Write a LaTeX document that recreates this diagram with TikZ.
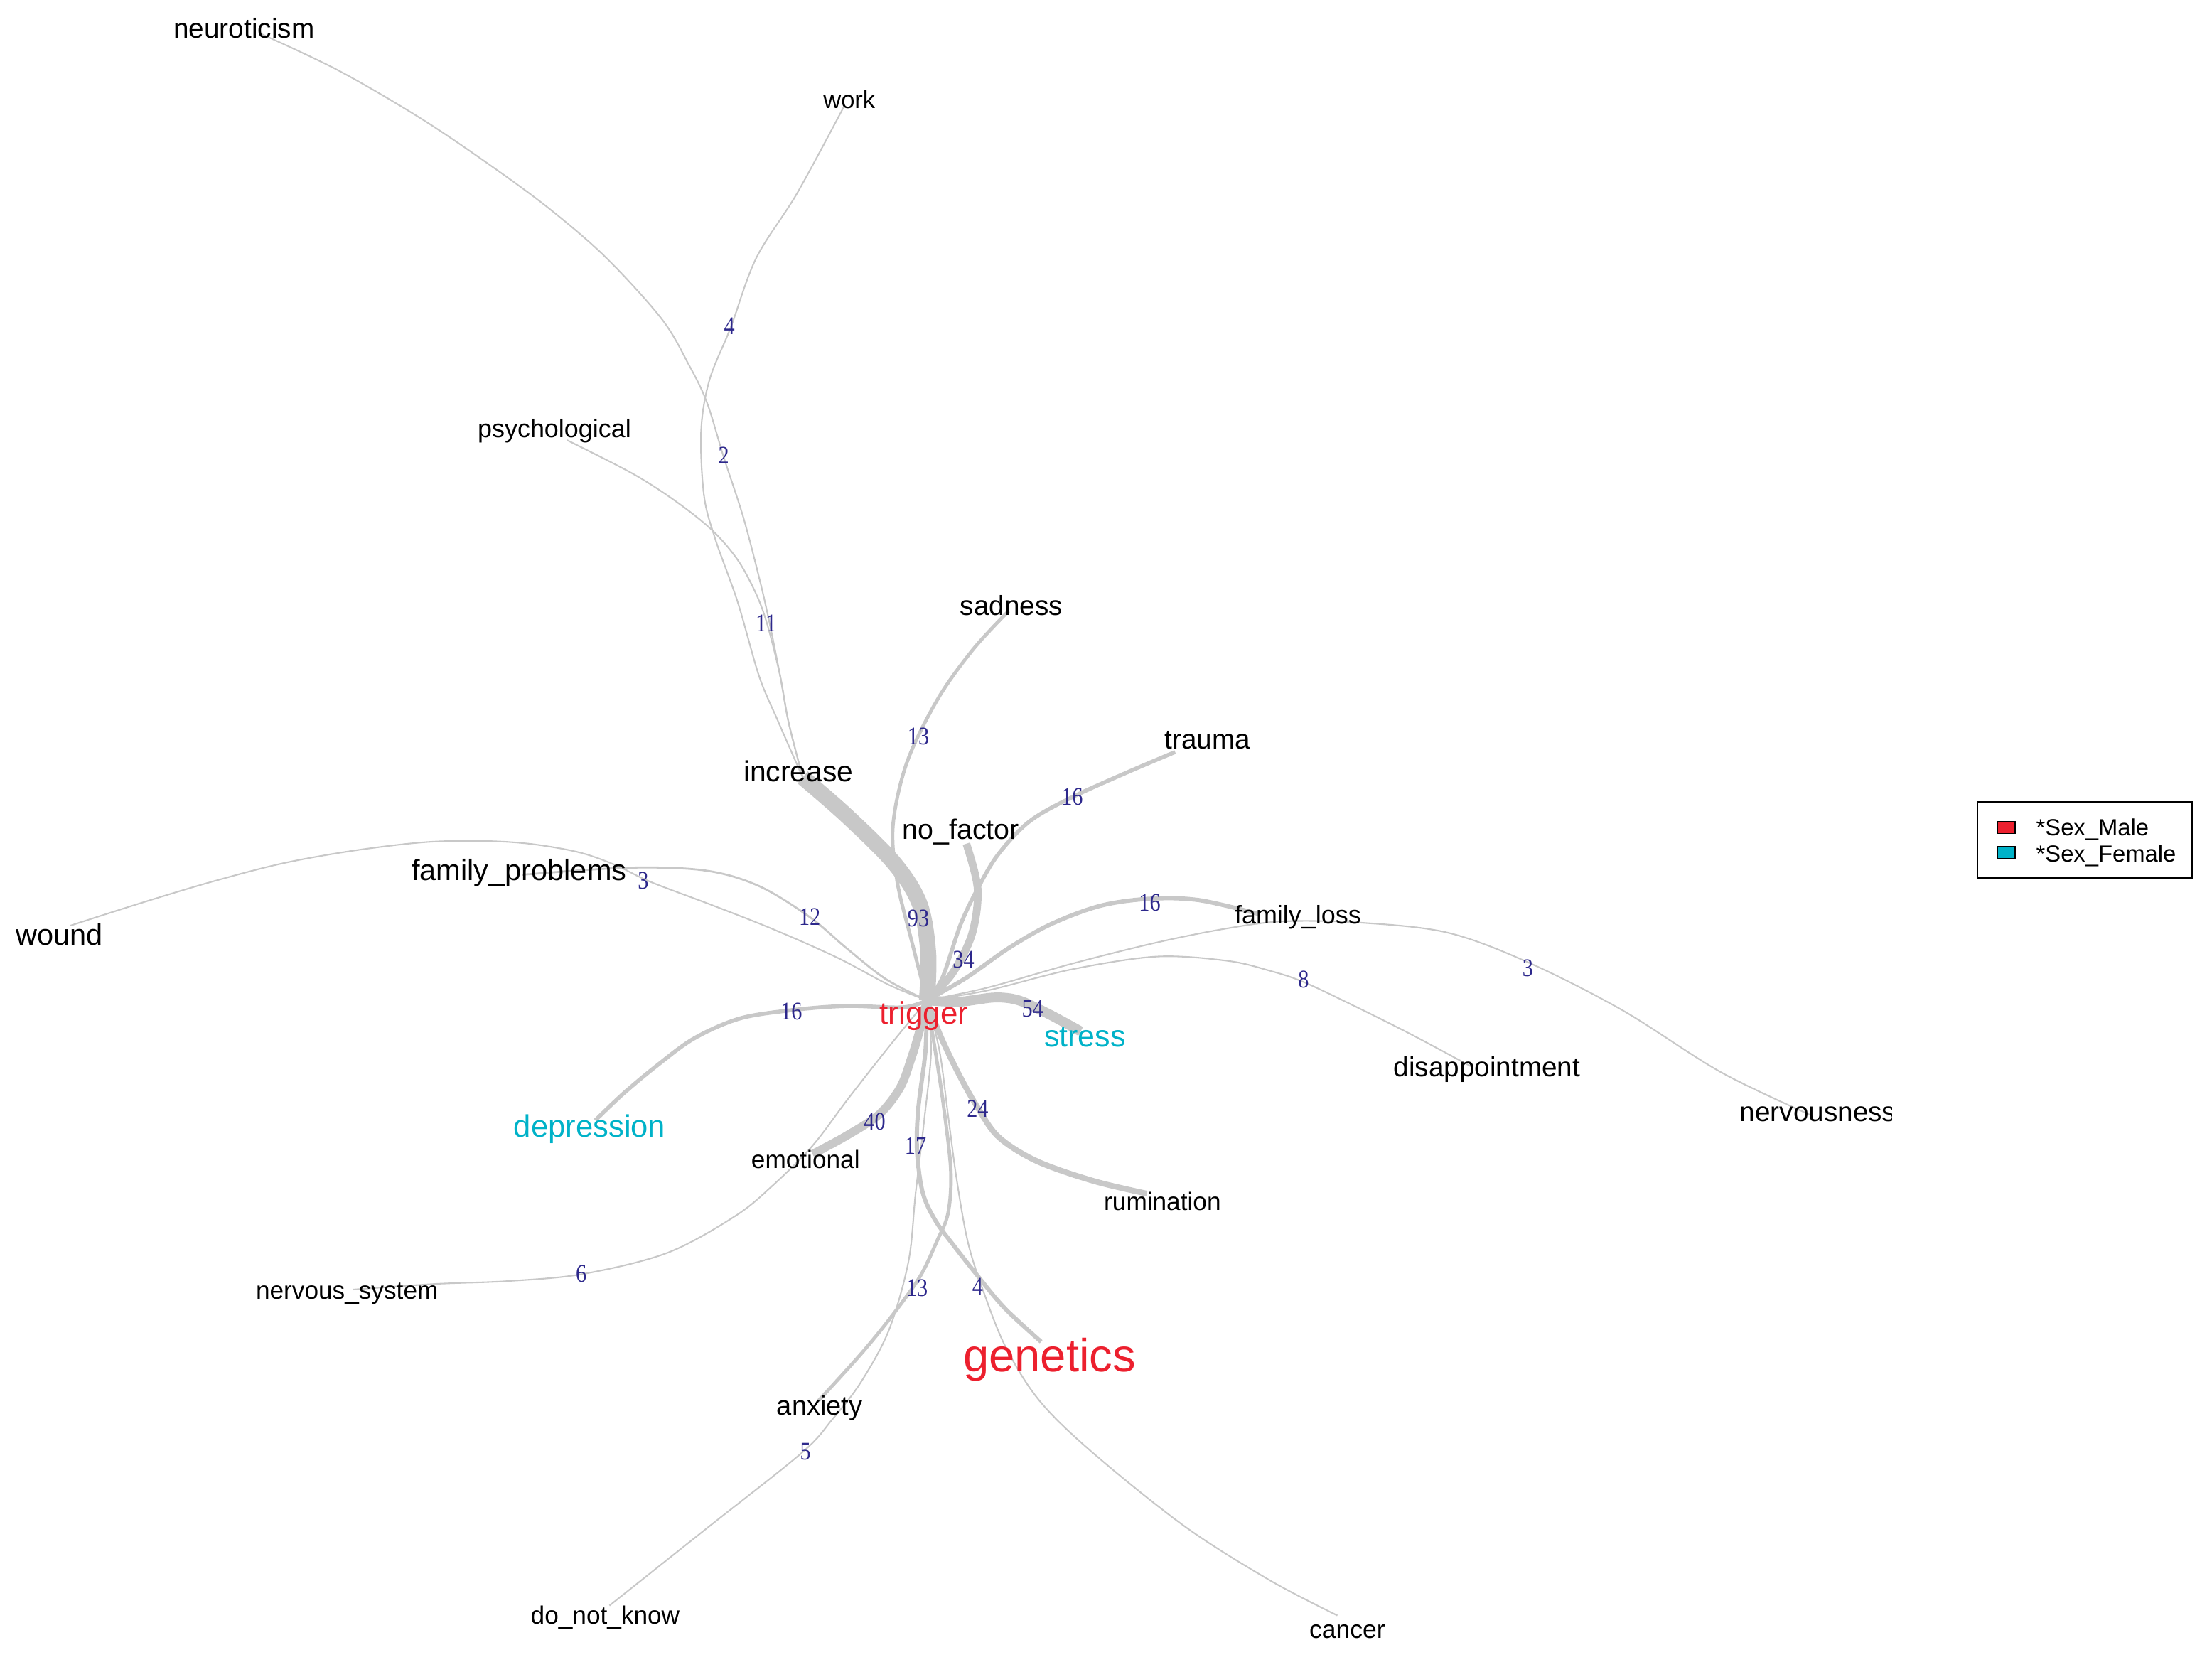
\documentclass[tikz,border=0pt]{standalone}
\usepackage{fontspec}
\setmainfont{Liberation Sans}
\newfontfamily\numfont[FakeStretch=0.85]{Liberation Serif}
\definecolor{egray}{RGB}{200,200,200}
\definecolor{tred}{RGB}{236,32,46}
\definecolor{tcyan}{RGB}{0,178,200}
\definecolor{tnum}{RGB}{45,40,140}
\pgfdeclarelayer{bg}
\pgfsetlayers{bg,main}
\begin{document}
\begin{tikzpicture}[x=0.02cm, y=-0.02cm,
  word/.style={anchor=base, inner sep=0pt, font=\fontsize{#1}{#1}\selectfont},
  num/.style={inner sep=0pt, text=tnum, font=\numfont\fontsize{10.2}{10.2}\selectfont},
  link/.style={draw=egray, line width=#1, line join=round},
  smoothplot/.style={smooth, tension=0.55}
]
\useasboundingbox (0,0) rectangle (1568,1185);

% ---------- word nodes ----------
\node[word=11.1] (neuroticism) at (173,27) {neuroticism};
\node[word=9.9] (work) at (602,77) {work};
\node[word=10.3] (psychological) at (393,310) {psychological};
\node[word=11.1] (sadness) at (717,436) {sadness};
\node[word=11.1] (trauma) at (856,531) {trauma};
\node[word=11.7] (increase) at (566,554) {increase};
\node[word=11.3] (nofactor) at (681,595) {no\_factor};
\node[word=11.9] (familyproblems) at (368,624) {family\_problems};
\node[word=11.9] (wound) at (42,670) {wound};
\node[word=10.3] (familyloss) at (920,655) {family\_loss};
\node[word=12.6, text=tred] (trigger) at (655,726) {trigger};
\node[word=12.3, text=tcyan] (stress) at (769,742) {stress};
\node[word=12.5, text=tcyan] (depression) at (418,806) {depression};
\node[word=11.1] (disappointment) at (1054,763) {disappointment};
\begin{scope}
\clip (0,0) rectangle (1341,1185);
\node[word=11.1, anchor=base west] (nervousness) at (1233,795) {nervousness};
\end{scope}
\node[word=10.1] (emotional) at (571,828) {emotional};
\node[word=10.1] (rumination) at (824,858) {rumination};
\node[word=10.1] (nervoussystem) at (246,921) {nervous\_system};
\node[word=18.7, text=tred] (genetics) at (744,972) {genetics};
\node[word=10.9] (anxiety) at (581,1003) {anxiety};
\node[word=10.1] (donotknow) at (429,1151) {do\_not\_know};
\node[word=10.2] (cancer) at (955,1161) {cancer};

% ---------- edge end points ----------
\coordinate (hub) at (657,709);
\coordinate (increase-p) at (569,551);
\coordinate (sadness-p) at (715,433);
\coordinate (trauma-p) at (833,533);
\coordinate (nofactor-p) at (685,598);
\coordinate (familyloss-p) at (893,648);
\coordinate (nervousness-p) at (1285,791);
\coordinate (disappointment-p) at (1043,756);
\coordinate (stress-p) at (766,731);
\coordinate (depression-p) at (422,794);
\coordinate (emotional-p) at (576,818);
\coordinate (nervoussystem-p) at (250,914);
\coordinate (rumination-p) at (813,846);
\coordinate (genetics-p) at (738,951);
\coordinate (anxiety-p) at (580,993);
\coordinate (cancer-p) at (948,1145);
\coordinate (donotknow-p) at (432,1138);
\coordinate (familyproblems-p) at (370,620);
\coordinate (wound-p) at (50,656);
\coordinate (work-p) at (598,76);
\coordinate (neuroticism-p) at (185,24);
\coordinate (psychological-p) at (402,312);

% ---------- edges ----------
\begin{pgfonlayer}{bg}
\draw[link=6.4pt] plot[smoothplot] coordinates {(hub) (658,676) (652,641) (634,612) (600,578) (increase-p)};
\draw[link=1.4pt] plot[smoothplot] coordinates {(hub) (647,670) (636,625) (633,585) (643,540) (665,495) (690,460) (sadness-p)};
\draw[link=1.6pt] plot[smoothplot] coordinates {(hub) (668,693) (681,655) (694,628) (708,605) (730,582) (760,565) (800,547) (trauma-p)};
\draw[link=3.1pt] plot[smoothplot] coordinates {(hub) (675,690) (689,662) (693,630) (nofactor-p)};
\draw[link=1.7pt] plot[smoothplot] coordinates {(hub) (685,693) (715,672) (745,655) (780,642) (815,637) (850,638) (familyloss-p)};
\draw[link=0.6pt] plot[smoothplot] coordinates {(hub) (700,700) (760,683) (820,668) (870,658) (910,653) (965,654) (1026,661) (1083,682) (1150,716) (1220,760) (nervousness-p)};
\draw[link=0.6pt] plot[smoothplot] coordinates {(hub) (700,702) (760,687) (820,678) (870,681) (900,688) (924,696) (960,713) (1000,733) (disappointment-p)};
\draw[link=4pt] plot[smoothplot] coordinates {(hub) (680,710) (705,707) (722,709) (742,718) (stress-p)};
\draw[link=1.6pt] plot[smoothplot] coordinates {(hub) (640,714) (600,713) (561,716) (524,722) (492,736) (466,755) (442,775) (depression-p)};
\draw[link=3.4pt] plot[smoothplot] coordinates {(hub) (652,730) (646,750) (638,771) (623,790) (600,805) (emotional-p)};
\draw[link=0.6pt] plot[smoothplot] coordinates {(hub) (630,742) (601,779) (576,812) (548,840) (521,862) (473,888) (413,903) (360,908) (309,910) (nervoussystem-p)};
\draw[link=2.3pt] plot[smoothplot] coordinates {(hub) (667,735) (680,762) (693,785) (708,806) (735,823) (775,837) (rumination-p)};
\draw[link=1.7pt] plot[smoothplot] coordinates {(hub) (656,745) (651,785) (650,815) (654,845) (663,865) (677,884) (692,903) (712,927) (genetics-p)};
\draw[link=1.4pt] plot[smoothplot] coordinates {(hub) (663,745) (669,785) (674,830) (672,860) (664,880) (652,905) (632,933) (610,960) (anxiety-p)};
\draw[link=0.6pt] plot[smoothplot] coordinates {(hub) (666,745) (672,790) (678,835) (686,880) (697,915) (713,955) (737,993) (775,1030) (840,1082) (900,1120) (cancer-p)};
\draw[link=0.6pt] plot[smoothplot] coordinates {(hub) (660,745) (655,795) (649,846) (644,894) (630,943) (610,980) (590,1006) (568,1030) (500,1084) (donotknow-p)};
\draw[link=0.8pt] plot[smoothplot] coordinates {(familyproblems-p) (445,615) (500,617) (538,628) (574,650) (600,672) (628,694) (hub)};
\draw[link=0.6pt] plot[smoothplot] coordinates {(wound-p) (100,640) (150,625) (200,612) (250,603) (300,597) (340,596) (375,598) (410,604) (436,613) (461,625) (506,642) (549,659) (594,679) (630,698) (hub)};
\draw[link=0.6pt] plot[smoothplot] coordinates {(work-p) (565,137) (536,183) (518,232) (503,269) (497,305) (499,351) (507,382) (523,427) (538,479) (551,510) (increase-p)};
\draw[link=0.6pt] plot[smoothplot] coordinates {(neuroticism-p) (240,50) (300,85) (353,121) (392,150) (430,183) (469,226) (488,258) (501,285) (513,324) (527,367) (539,413) (546,444) (553,479) (559,512) (increase-p)};
\draw[link=0.6pt] plot[smoothplot] coordinates {(psychological-p) (449,336) (480,356) (505,376) (523,397) (536,421) (544,443) (553,479) (559,512) (increase-p)};
\end{pgfonlayer}

% ---------- edge labels ----------
\node[num] (n-work) at (517,231) {4};
\node[num] (n-neuro) at (513,323) {2};
\node[num] (n-psych) at (543,442) {11};
\node[num] (n-sad) at (651,522) {13};
\node[num] (n-trauma) at (760,565) {16};
\node[num] (n-wound) at (456,624) {3};
\node[num] (n-fprob) at (574,650) {12};
\node[num] (n-inc) at (651,651) {93};
\node[num] (n-nofac) at (683,680) {34};
\node[num] (n-floss) at (815,640) {16};
\node[num] (n-disap) at (924,694) {8};
\node[num] (n-nerv) at (1083,686) {3};
\node[num] (n-dep) at (561,717) {16};
\node[num] (n-stress) at (732,715) {54};
\node[num] (n-emo) at (620,795) {40};
\node[num] (n-rum) at (693,786) {24};
\node[num] (n-gen) at (649,812) {17};
\node[num] (n-nsys) at (412,903) {6};
\node[num] (n-anx) at (650,913) {13};
\node[num] (n-cancer) at (693,912) {4};
\node[num] (n-dnk) at (571,1029) {5};

% ---------- legend ----------
\node[draw=black, line width=0.8pt, inner sep=0pt, minimum width=3.04cm, minimum height=1.08cm, anchor=north west] (legend) at (1401,568) {};
\node[draw=black, line width=0.5pt, fill=tred, inner sep=0pt, minimum width=0.25cm, minimum height=0.17cm] (keymale) at (1422,586.5) {};
\node[draw=black, line width=0.5pt, fill=tcyan, inner sep=0pt, minimum width=0.25cm, minimum height=0.17cm] (keyfemale) at (1422,604.5) {};
\node[word=9.4, anchor=base west] (labmale) at (1443,592.5) {*Sex\_Male};
\node[word=9.4, anchor=base west] (labfemale) at (1443,611) {*Sex\_Female};
\end{tikzpicture}
\end{document}
